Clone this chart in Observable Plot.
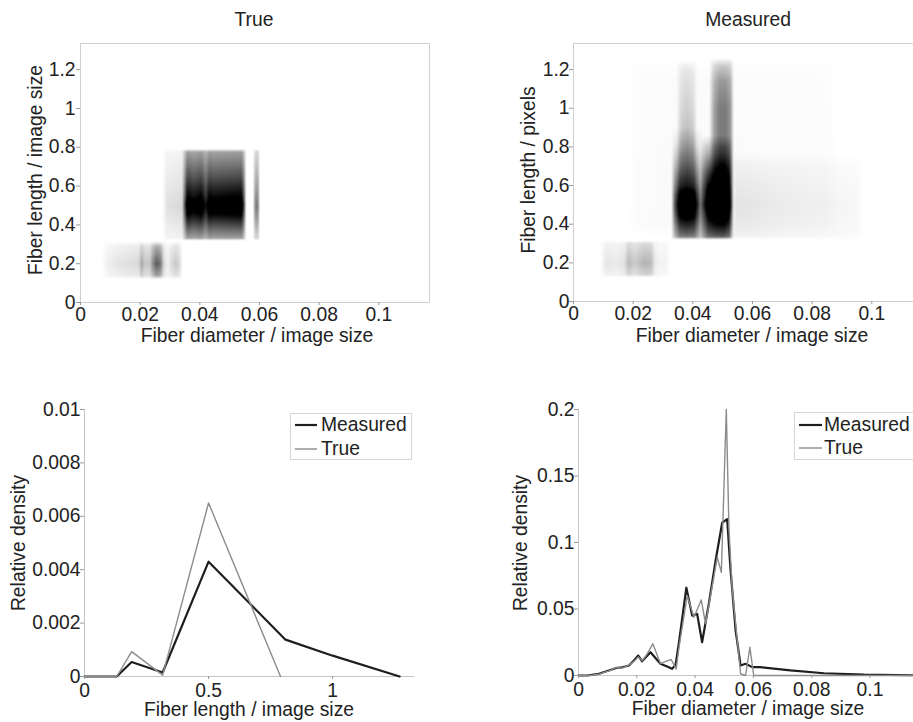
<!DOCTYPE html>
<html>
<head>
<meta charset="utf-8">
<script src="https://cdn.jsdelivr.net/npm/d3@7"></script>
<script src="https://cdn.jsdelivr.net/npm/@observablehq/plot@0.6"></script>
<style>
  html, body { margin: 0; padding: 0; background: #fff; overflow: hidden; }
  #wrap { position: relative; width: 913px; height: 722px; overflow: hidden;
          font-family: "Liberation Sans", Arial, sans-serif; color: #222; background: #fff; }
  #wrap > svg { position: absolute; left: 0; top: 0; }
  .t { position: absolute; white-space: nowrap; font-size: 19.3px; line-height: 0.8;
       transform: translate(-50%, -50%); }
  .lg { position: absolute; background: #fff; border: 1px solid #d6d6d6; box-sizing: border-box; }
  .lt { position: absolute; white-space: nowrap; font-size: 19.3px; line-height: 0.8; transform: translate(0, -50%); }
</style>
</head>
<body>
<div id="wrap"></div>
<script>
// ---------------- tick labels ----------------
const heatXTicks = [0, 0.02, 0.04, 0.06, 0.08, 0.1];
const heatYTicks = [0, 0.2, 0.4, 0.6, 0.8, 1, 1.2];
const lenXTicks = [0, 0.5, 1];
const lenYTicks = [0, 0.002, 0.004, 0.006, 0.008, 0.01];
const diamXTicks = [0, 0.02, 0.04, 0.06, 0.08, 0.1];
const diamYTicks = [0, 0.05, 0.1, 0.15, 0.2];

// ---------------- domains ----------------
const heatDiamDomain = [0, 0.117];
const heatLenDomain = [0, 1.335];
const lenDomain = [0, 1.33];
const lenDensDomain = [0, 0.01];
const diamDomain = [0, 0.118];
const diamDensDomain = [0, 0.2];

// ---------------- length marginal (bottom left) ----------------
const lenMeasuredX = [0, 0.13, 0.19, 0.315, 0.5, 0.81, 1.0, 1.27];
const lenMeasuredY = [0, 0, 0.00054, 0.00015, 0.0043, 0.00138, 0.00078, 0];
const lenTrueX = [0, 0.13, 0.19, 0.315, 0.5, 0.79];
const lenTrueY = [0, 0, 0.00093, 0.00005, 0.0065, 0];

// ---------------- diameter marginal (bottom right) ----------------
const diamMeasuredX = [0, 0.003, 0.007, 0.0104, 0.0127, 0.015, 0.0173, 0.019, 0.0205, 0.0218,
  0.0247, 0.0281, 0.0304, 0.0321, 0.0333, 0.0344, 0.037, 0.039, 0.0407, 0.0424, 0.0447, 0.047,
  0.0493, 0.051, 0.0521, 0.0539, 0.0556, 0.0573, 0.0596, 0.0624, 0.0727, 0.0842, 0.098, 0.115];
const diamMeasuredY = [0, 0, 0.0013, 0.0038, 0.0055, 0.0062, 0.0075, 0.0113, 0.015, 0.0107,
  0.0175, 0.0088, 0.0068, 0.005, 0.008, 0.024, 0.066, 0.045, 0.0463, 0.025, 0.0538, 0.086,
  0.115, 0.1175, 0.081, 0.0338, 0.0075, 0.0088, 0.0063, 0.0063, 0.0038, 0.0017, 0.0006, 0.0002];
const diamTrueX = [0, 0.004, 0.007, 0.0104, 0.0127, 0.015, 0.0173, 0.019, 0.0205, 0.0218, 0.0232,
  0.0255, 0.0281, 0.0304, 0.0318, 0.0335, 0.0344, 0.0373, 0.0396, 0.0421, 0.0436, 0.0453, 0.0476,
  0.049, 0.0507, 0.0516, 0.0527, 0.0556, 0.0573, 0.0588, 0.0601, 0.115];
const diamTrueY = [0, 0, 0.001, 0.0035, 0.006, 0.0055, 0.008, 0.0105, 0.014, 0.011, 0.015,
  0.0238, 0.009, 0.011, 0.012, 0.005, 0.02, 0.06, 0.0438, 0.0568, 0.0388, 0.06, 0.0888,
  0.0775, 0.2, 0.111, 0.066, 0.0013, 0, 0.0212, 0, 0];

// ---------------- heat map "True" (darkness 0..1) ----------------
// short-fibre cluster
const trueShortDiam = [0.007, 0.009, 0.012, 0.0195, 0.0205, 0.0215, 0.0232, 0.0245, 0.0255, 0.0268, 0.028, 0.0292, 0.0305, 0.032, 0.0332, 0.0342];
const trueShortDiamW = [0, 0.06, 0.1, 0.15, 0.36, 0.22, 0.22, 0.5, 0.65, 0.55, 0.15, 0.06, 0.15, 0.22, 0.15, 0];
const trueShortLen = [0.12, 0.14, 0.2, 0.29, 0.315];
const trueShortLenW = [0, 0.6, 1, 0.5, 0];
// main cluster
const trueMainDiam = [0.0275, 0.029, 0.034, 0.0347, 0.0358, 0.038, 0.0405, 0.042, 0.0432, 0.0446, 0.054, 0.0548, 0.0556, 0.0578, 0.0586, 0.0594, 0.0602];
const trueMainDiamW = [0, 0.1, 0.13, 0.45, 1.0, 0.92, 1.0, 0.78, 1.0, 0.95, 1.0, 0.6, 0, 0, 0.4, 0.45, 0];
const trueMainLen = [0.32, 0.332, 0.38, 0.45, 0.5, 0.55, 0.65, 0.775, 0.792];
const trueMainLenW = [0, 0.38, 0.62, 1.0, 1.2, 1.0, 0.7, 0.38, 0];

// ---------------- heat map "Measured" (darkness 0..1) ----------------
const measShortDiam = [0.009, 0.011, 0.0145, 0.017, 0.0185, 0.0205, 0.022, 0.0238, 0.026, 0.0272, 0.0285, 0.031, 0.0325];
const measShortDiamW = [0, 0.1, 0.08, 0.12, 0.28, 0.2, 0.25, 0.3, 0.28, 0.1, 0.05, 0.05, 0];
const measShortLen = [0.125, 0.14, 0.2, 0.3, 0.315];
const measShortLenW = [0, 0.6, 1, 0.5, 0];
const measCol1Diam = [0.0328, 0.034, 0.0356, 0.038, 0.0405, 0.0422, 0.0435];
const measCol1DiamW = [0, 0.55, 0.95, 1.0, 0.95, 0.55, 0];
const measCol1Len = [0.32, 0.335, 0.4, 0.45, 0.5, 0.55, 0.6, 0.7, 0.8, 0.9];
const measCol1LenW = [0, 0.5, 0.8, 1.05, 1.2, 1.05, 0.8, 0.45, 0.15, 0];
const measCol1TopDiam = [0.0345, 0.0362, 0.038, 0.04, 0.0415];
const measCol1TopDiamW = [0, 0.8, 1, 0.8, 0];
const measCol1TopLen = [0.33, 0.35, 0.6, 0.7, 0.8, 1.0, 1.2, 1.25];
const measCol1TopLenW = [0, 0.05, 0.1, 0.2, 0.28, 0.17, 0.09, 0];
const measCol2Diam = [0.0425, 0.0435, 0.0452, 0.048, 0.0505, 0.0522, 0.0537];
const measCol2DiamW = [0, 0.6, 0.95, 1.0, 1.0, 0.85, 0];
const measCol2Len = [0.32, 0.335, 0.4, 0.45, 0.5, 0.58, 0.66, 0.76, 0.86];
const measCol2LenW = [0, 0.6, 0.9, 1.1, 1.3, 1.1, 0.8, 0.35, 0];
const measCol2TopDiam = [0.0455, 0.0472, 0.049, 0.051, 0.0525, 0.0538];
const measCol2TopDiamW = [0, 0.7, 1, 1, 0.8, 0];
const measCol2TopLen = [0.33, 0.35, 0.6, 0.7, 0.8, 1.0, 1.14, 1.22, 1.26];
const measCol2TopLenW = [0, 0.05, 0.22, 0.38, 0.5, 0.5, 0.38, 0.2, 0];
const measWideDiam = [0.052, 0.055, 0.06, 0.07, 0.08, 0.09, 0.095, 0.097];
const measWideDiamW = [0, 0.09, 0.08, 0.06, 0.05, 0.04, 0.03, 0];
const measWideLen = [0.32, 0.34, 0.45, 0.5, 0.6, 0.7, 0.76];
const measWideLenW = [0, 0.6, 0.9, 1.0, 0.75, 0.45, 0];
const measFaintDiam = [0.018, 0.022, 0.03, 0.055, 0.085, 0.088];
const measFaintDiamW = [0, 0.015, 0.02, 0.02, 0.015, 0];
const measFaintLen = [0.33, 0.4, 1.15, 1.25];
const measFaintLenW = [0, 1, 0.8, 0];

// ---------------- helpers ----------------
const trueBlocks = [
  [trueShortDiam, trueShortDiamW, trueShortLen, trueShortLenW],
  [trueMainDiam, trueMainDiamW, trueMainLen, trueMainLenW]
];
const measBlocks = [
  [measShortDiam, measShortDiamW, measShortLen, measShortLenW],
  [measCol1Diam, measCol1DiamW, measCol1Len, measCol1LenW],
  [measCol1TopDiam, measCol1TopDiamW, measCol1TopLen, measCol1TopLenW],
  [measCol2Diam, measCol2DiamW, measCol2Len, measCol2LenW],
  [measCol2TopDiam, measCol2TopDiamW, measCol2TopLen, measCol2TopLenW],
  [measWideDiam, measWideDiamW, measWideLen, measWideLenW],
  [measFaintDiam, measFaintDiamW, measFaintLen, measFaintLenW]
];
function lerp(xs, vs, x) {
  if (x <= xs[0] || x >= xs[xs.length - 1]) return 0;
  const i = d3.bisectRight(xs, x) - 1;
  const t = (x - xs[i]) / (xs[i + 1] - xs[i]);
  return vs[i] + t * (vs[i + 1] - vs[i]);
}
const sampler = blocks => (x, y) => d3.sum(blocks, ([d, dw, l, lw]) => lerp(d, dw, x) * lerp(l, lw, y));
const fmt = d => String(+d.toFixed(5));
const zipXY = (xs, ys) => xs.map((x, i) => ({x, y: ys[i]}));

const W = 930, H = 722;
const FONT = "Liberation Sans, Arial, sans-serif";
const wrap = document.getElementById("wrap");

function panel([l, t, r, b], xDomain, yDomain, marks) {
  const svg = Plot.plot({
    width: W, height: H,
    marginLeft: l, marginTop: t, marginRight: W - r, marginBottom: H - b,
    x: {domain: xDomain},
    y: {domain: yDomain},
    color: {type: "linear", domain: [0, 1], range: ["#ffffff", "#000000"], interpolate: "rgb", clamp: true},
    style: {background: "transparent", maxWidth: "none", fontSize: "19.3px", fontFamily: FONT, color: "#222", overflow: "visible"},
    marks
  });
  wrap.appendChild(svg);
}
const axisStyle = {stroke: "#9a9a9a", fill: "#222", label: null, tickFormat: fmt};

// ---------------- top left: True ----------------
panel([80, 43, 429, 302], heatDiamDomain, heatLenDomain, [
  Plot.raster({x1: heatDiamDomain[0], x2: heatDiamDomain[1], y1: heatLenDomain[0], y2: heatLenDomain[1], fill: sampler(trueBlocks)}),
  Plot.frame({stroke: "#cfcfcf"}),
  Plot.axisX({...axisStyle, ticks: heatXTicks, tickSize: 3, tickPadding: 2}),
  Plot.axisY({...axisStyle, ticks: heatYTicks, tickSize: 4, tickPadding: 1})
]);

// ---------------- top right: Measured ----------------
panel([573, 43, 922, 301], heatDiamDomain, heatLenDomain, [
  Plot.raster({x1: heatDiamDomain[0], x2: heatDiamDomain[1], y1: heatLenDomain[0], y2: heatLenDomain[1], fill: sampler(measBlocks)}),
  Plot.frame({stroke: "#cfcfcf"}),
  Plot.axisX({...axisStyle, ticks: heatXTicks, tickSize: 3, tickPadding: 2}),
  Plot.axisY({...axisStyle, ticks: heatYTicks, tickSize: 4, tickPadding: 0})
]);

// ---------------- bottom left: length density ----------------
panel([84, 409, 414, 676], lenDomain, lenDensDomain, [
  Plot.ruleY([0], {stroke: "#c4c4c4"}),
  Plot.ruleX([0], {stroke: "#c4c4c4"}),
  Plot.line(zipXY(lenMeasuredX, lenMeasuredY), {x: "x", y: "y", stroke: "#1e1e1e", strokeWidth: 2.2, strokeLinejoin: "round"}),
  Plot.line(zipXY(lenTrueX, lenTrueY), {x: "x", y: "y", stroke: "#8c8c8c", strokeWidth: 1.4, strokeLinejoin: "round"}),
  Plot.axisX({...axisStyle, ticks: lenXTicks, tickSize: 3, tickPadding: 4}),
  Plot.axisY({...axisStyle, ticks: lenYTicks, tickSize: 4, tickPadding: 0})
]);

// ---------------- bottom right: diameter density ----------------
panel([578, 409, 922, 675], diamDomain, diamDensDomain, [
  Plot.ruleY([0], {stroke: "#c4c4c4"}),
  Plot.ruleX([0], {stroke: "#c4c4c4"}),
  Plot.line(zipXY(diamMeasuredX, diamMeasuredY), {x: "x", y: "y", stroke: "#1e1e1e", strokeWidth: 2.2, strokeLinejoin: "round"}),
  Plot.line(zipXY(diamTrueX, diamTrueY), {x: "x", y: "y", stroke: "#8c8c8c", strokeWidth: 1.4, strokeLinejoin: "round"}),
  Plot.axisX({...axisStyle, ticks: diamXTicks, tickSize: 3, tickPadding: 4}),
  Plot.axisY({...axisStyle, ticks: diamYTicks, tickSize: 4, tickPadding: 0})
]);

// ---------------- titles & axis labels ----------------
function addText(txt, cx, cy, rotate) {
  const d = document.createElement("div");
  d.className = "t";
  d.textContent = txt;
  d.style.left = cx + "px";
  d.style.top = cy + "px";
  if (rotate) d.style.transform = "translate(-50%, -50%) rotate(-90deg)";
  wrap.appendChild(d);
}
addText("True", 254, 20);
addText("Measured", 748, 20);
addText("Fiber diameter / image size", 257, 335.5);
addText("Fiber diameter / image size", 752, 335.5);
addText("Fiber length / image size", 35.5, 170, true);
addText("Fiber length / pixels", 529, 170, true);
addText("Relative density", 19, 543, true);
addText("Relative density", 521, 543, true);
addText("Fiber length / image size", 249, 710);
addText("Fiber diameter / image size", 748, 709);

// ---------------- legends ----------------
const legendItems = [
  {name: "Measured", stroke: "#1e1e1e", width: 2.2},
  {name: "True", stroke: "#8c8c8c", width: 1.4}
];
function addLegend(x0, y0, x1, y1, lineX0, lineX1, textX, rowYs) {
  const box = document.createElement("div");
  box.className = "lg";
  Object.assign(box.style, {left: x0 + "px", top: y0 + "px", width: (x1 - x0) + "px", height: (y1 - y0) + "px"});
  wrap.appendChild(box);
  legendItems.forEach((it, i) => {
    const s = document.createElementNS("http://www.w3.org/2000/svg", "svg");
    s.setAttribute("width", lineX1 - lineX0);
    s.setAttribute("height", 6);
    s.style.position = "absolute";
    s.style.left = lineX0 + "px";
    s.style.top = (rowYs[i] - 3) + "px";
    const ln = document.createElementNS("http://www.w3.org/2000/svg", "line");
    ln.setAttribute("x1", 0); ln.setAttribute("x2", lineX1 - lineX0);
    ln.setAttribute("y1", 3); ln.setAttribute("y2", 3);
    ln.setAttribute("stroke", it.stroke); ln.setAttribute("stroke-width", it.width);
    s.appendChild(ln);
    wrap.appendChild(s);
    const t = document.createElement("div");
    t.className = "lt";
    t.textContent = it.name;
    t.style.left = textX + "px";
    t.style.top = rowYs[i] + "px";
    wrap.appendChild(t);
  });
}
addLegend(290, 413, 412, 460, 295, 317, 321, [425, 449]);
addLegend(794, 412, 930, 460, 799, 822, 824, [425, 448]);
</script>
</body>
</html>
